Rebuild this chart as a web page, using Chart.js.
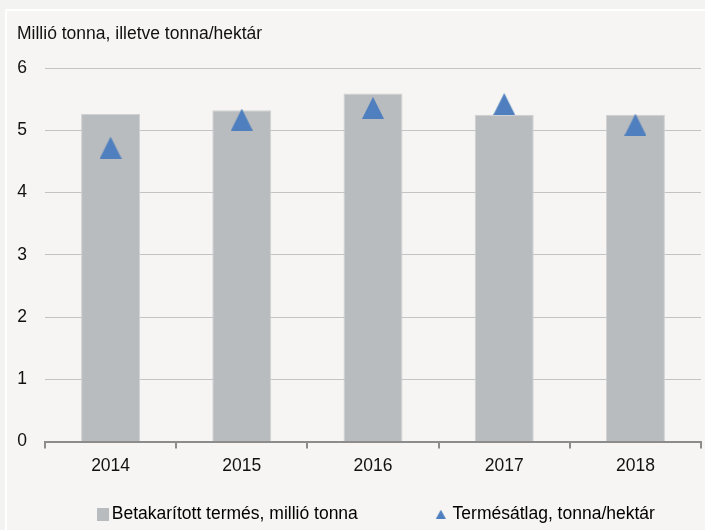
<!DOCTYPE html>
<html>
<head>
<meta charset="utf-8">
<script src="https://cdn.jsdelivr.net/npm/chart.js@4"></script>
<style>
    html, body { margin: 0; padding: 0; background: #f3f3f2; overflow: hidden; width: 705px; height: 530px; }
    #wrap { position: absolute; left: 5px; top: 9px; width: 700px; height: 521px; background: #f6f5f3; border-top: 2px solid #ffffff; border-left: 2px solid #ffffff; }
    #chart { position: absolute; left: 0; top: 0; }
</style>
</head>
<body>
<div id="wrap"></div>
<canvas id="chart" width="705" height="533"></canvas>
<script>
// Data
const years = ['2014', '2015', '2016', '2017', '2018'];
const harvest = [5.26, 5.32, 5.59, 5.25, 5.25];     // millió tonna
const yieldAvg = [4.72, 5.17, 5.36, 5.42, 5.09];    // tonna/hektár
const yTicks = [0, 1, 2, 3, 4, 5, 6];

const titleText = 'Millió tonna, illetve tonna/hektár';
const harvestLabel = 'Betakarított termés, millió tonna';
const yieldLabel = 'Termésátlag, tonna/hektár';

const barColor = '#b9bcbf';
const triColor = '#4f7fbe';
const fontFamily = '"Liberation Sans", Arial, sans-serif';
const fontSize = 17.5;

// small canvases used as point styles (drawn centred on the point)
const makeTriangle = (w, h, color, imgW) => {
    const c = document.createElement('canvas');
    c.width = imgW || w; c.height = h;
    const x0 = c.width - w - (imgW ? 4 : 0);
    const ctx = c.getContext('2d');
    ctx.fillStyle = color;
    ctx.beginPath();
    ctx.moveTo(x0 + w / 2, 0);
    ctx.lineTo(x0 + w, h);
    ctx.lineTo(x0, h);
    ctx.closePath();
    ctx.fill();
    return c;
};
const makeBox = (w, h, color, imgW) => {
    const c = document.createElement('canvas');
    c.width = imgW || w; c.height = h;
    const ctx = c.getContext('2d');
    ctx.fillStyle = color;
    ctx.fillRect(c.width - w, 0, w, h);
    return c;
};

// legend spacing: the symbol sits at the right end of a wide point-style box
const legendBoxW = 64;
const markerTri = makeTriangle(22, 22, triColor);
const legendTri = makeTriangle(10, 9, triColor, legendBoxW + 12);
const legendBox = makeBox(12, 13, barColor, legendBoxW + 12);

new Chart(document.getElementById('chart'), {
    data: {
        labels: years,
        datasets: [
            {
                type: 'line',
                label: yieldLabel,
                data: yieldAvg,
                showLine: false,
                pointStyle: markerTri,
                pointRadius: 11,
                pointHoverRadius: 11,
                order: 0
            },
            {
                type: 'bar',
                label: harvestLabel,
                data: harvest,
                backgroundColor: barColor,
                borderColor: '#cfd1d3',
                borderWidth: 1,
                barPercentage: 0.45,
                categoryPercentage: 1,
                order: 1
            }
        ]
    },
    options: {
        responsive: false,
        animation: false,
        layout: { autoPadding: false, padding: { left: 17, right: 4, top: 24, bottom: 0 } },
        plugins: {
            tooltip: { enabled: false },
            title: {
                display: true,
                text: titleText,
                align: 'start',
                color: '#111',
                font: { family: fontFamily, size: fontSize, weight: 'normal' },
                padding: { top: 0, bottom: 23 }
            },
            legend: {
                position: 'bottom',
                align: 'start',
                labels: {
                    usePointStyle: true,
                    pointStyleWidth: legendBoxW,
                    boxHeight: 12,
                    padding: 22,
                    color: '#111',
                    font: { family: fontFamily, size: fontSize },
                    generateLabels: () => [
                        { text: harvestLabel, pointStyle: legendBox, fillStyle: barColor, strokeStyle: barColor, lineWidth: 0, datasetIndex: 1 },
                        { text: yieldLabel, pointStyle: legendTri, fillStyle: triColor, strokeStyle: triColor, lineWidth: 0, datasetIndex: 0 }
                    ]
                }
            }
        },
        scales: {
            x: {
                offset: true,
                afterFit: (axis) => { axis.paddingLeft = 0; axis.paddingRight = 0; },
                grid: { display: true, offset: true, drawOnChartArea: false, drawTicks: true, tickLength: 7, color: '#8c8c8c', lineWidth: 2 },
                border: { display: true, color: '#8c8c8c', width: 2 },
                ticks: { color: '#111', padding: 7, font: { family: fontFamily, size: fontSize } }
            },
            y: {
                min: 0,
                max: 6,
                afterBuildTicks: (axis) => { axis.ticks = yTicks.map(v => ({ value: v })); },
                afterFit: (axis) => { axis.width = 28; },
                grid: { color: '#c3c3c3', lineWidth: 1, drawTicks: false },
                border: { display: false },
                ticks: { color: '#111', padding: 18, font: { family: fontFamily, size: fontSize } }
            }
        }
    }
});
</script>
</body>
</html>
